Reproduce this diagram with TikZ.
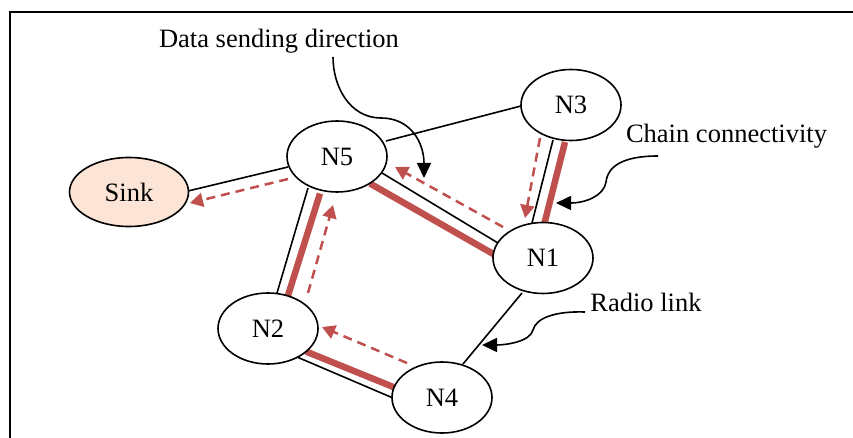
\documentclass[tikz,border=0pt]{standalone}
\usepackage{fontspec}
\setmainfont{Liberation Serif}
\usetikzlibrary{shapes.geometric,arrows.meta,calc,backgrounds}
\definecolor{chainred}{HTML}{C0504D}
\definecolor{sinkfill}{HTML}{FCE4D6}

\begin{document}
\begin{tikzpicture}[x=1pt,y=-1pt,
  sensor/.style={ellipse,draw=black,line width=1.6pt,fill=white,
    minimum width=100pt,minimum height=71pt,inner sep=0pt,outer sep=0pt,
    font=\fontsize{26.5}{30}\selectfont},
  link/.style={line width=1.6pt,black},
  chain/.style={line width=6.5pt,chainred},
  flow/.style={line width=2.5pt,chainred,dash pattern=on 9pt off 6pt,
    -{Triangle[length=13pt,width=14pt]}},
  callout/.style={line width=1.6pt,black,-{Triangle[length=15pt,width=14pt]}},
  note/.style={font=\fontsize{26.5}{30}\selectfont,inner sep=0pt,anchor=base}]

\useasboundingbox (0,0) rectangle (853,438);
% outer frame
\draw[line width=2pt] (10,438) -- (10,12) -- (853,12);

% sensor nodes and the sink
\node[sensor,fill=sinkfill,minimum width=119pt,minimum height=69pt] (sink) at (129,192) {Sink};
\node[sensor] (n5) at (337,156.5) {N5};
\node[sensor] (n3) at (571,105) {N3};
\node[sensor] (n1) at (543,258) {N1};
\node[sensor] (n2) at (268,328.5) {N2};
\node[sensor] (n4) at (442,397.5) {N4};

% radio links and chain links, behind the nodes
\begin{scope}[on background layer]
  \draw[link] ($(sink)+(59,-1)$) -- ($(n5)+(-49,10.5)$);
  \draw[link] ($(n5)+(49,-15.5)$) -- ($(n3)+(-50,1)$);
  \draw[link] ($(n5)+(45,16.5)$) -- ($(n1)+(-45,-15)$);
  \draw[chain] ($(n5)+(33,27)$) -- ($(n1)+(-48,-3)$);
  \draw[link] ($(n3)+(-18,35)$) -- ($(n1)+(-11,-35)$);
  \draw[chain] ($(n3)+(-6,37)$) -- ($(n1)+(1,-33)$);
  \draw[link] ($(n5)+(-29,31.5)$) -- ($(n2)+(9,-35.5)$);
  \draw[chain] ($(n5)+(-17,37)$) -- ($(n2)+(20,-33)$);
  \draw[link] ($(n2)+(29,28.5)$) -- ($(n4)+(-49,0.5)$);
  \draw[chain] ($(n2)+(38,23)$) -- ($(n4)+(-45,-9)$);
  \draw[link] ($(n1)+(-21,35)$) -- ($(n4)+(21,-33.5)$);
\end{scope}

% data sending direction along the chain
\draw[flow] ($(n5)+(-49,22.5)$) -- ($(sink)+(61,11)$);
\draw[flow] ($(n1)+(-40,-31)$) -- ($(n5)+(58,10.5)$);
\draw[flow] ($(n3)+(-31,33)$) -- ($(n1)+(-18,-40)$);
\draw[flow] ($(n2)+(40,-35.5)$) -- ($(n5)+(-4,48.5)$);
\draw[flow] ($(n4)+(-35,-34.5)$) -- ($(n2)+(54,-1.5)$);

% annotations
\node[note] (dsd) at (279,48) {Data sending direction};
\node[note] (cc) at (726.5,143) {Chain connectivity};
\node[note] (rl) at (646,311) {Radio link};

\coordinate (dsdtip) at (424,178);
\coordinate (cctip) at (556,203);
\coordinate (rltip) at (482,345);

\draw[callout] ($(dsd.base)+(54,9)$) .. controls +(0,30) and (350,118) .. (381,118)
  .. controls (411,118) and (424,143) .. (dsdtip);
\draw[callout] ($(cc.base)+(-68.5,13)$) .. controls (625,156) and (608,165) .. (606,182)
  .. controls (604,196) and (585,203) .. (cctip);
\draw[callout] ($(rl.base)+(-61,1)$) .. controls (555,311) and (536,318) .. (533,330)
  .. controls (530,342) and (505,345) .. (rltip);
\end{tikzpicture}
\end{document}
